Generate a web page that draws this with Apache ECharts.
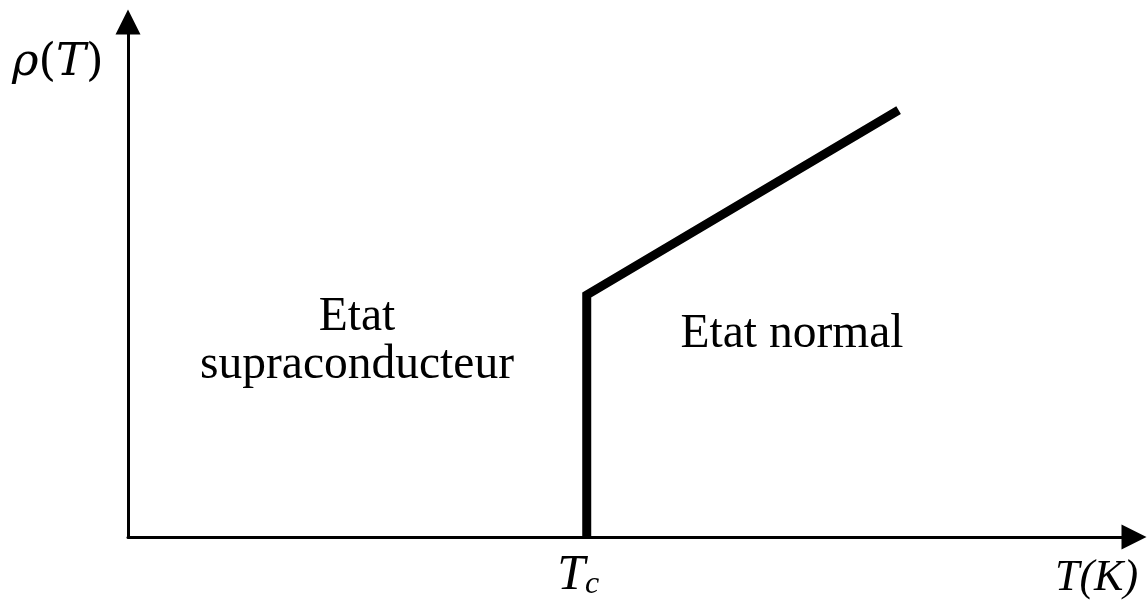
<!DOCTYPE html>
<html>
<head>
<meta charset="utf-8">
<script src="https://cdn.jsdelivr.net/npm/echarts@6/dist/echarts.min.js"></script>
<style>html,body{margin:0;padding:0;background:#fff;}#c{width:1148px;height:606px;}</style>
</head>
<body>
<div id="c"></div>
<script>
// Data (arbitrary units)
const xRange = [0, 100];
const yRange = [0, 100];
const TC = 45.6;            // critical temperature position
const curveX = [TC, TC, 76.6];
const curveY = [0, 47.0, 82.9];
const regionLabels = ['Etat', 'supraconducteur', 'Etat normal'];
const axisNames = ['ρ(T)', 'T(K)'];

const serif = '"Liberation Serif", "DejaVu Serif", serif';
const mathSerif = '"DejaVu Serif", serif';
const chart = echarts.init(document.getElementById('c'), null, {renderer: 'canvas'});
const curve = curveX.map((x, i) => [x, curveY[i]]);

chart.setOption({
  backgroundColor: '#fff',
  animation: false,
  grid: {left: 128, right: 14, top: 22, bottom: 69, containLabel: false},
  xAxis: {
    type: 'value', min: xRange[0], max: xRange[1],
    axisLine: {show: true, onZero: false, symbol: ['none', 'triangle'], symbolSize: [25, 25], symbolOffset: [0, 0],
      lineStyle: {color: '#000', width: 3}},
    axisTick: {show: false},
    splitLine: {show: false},
    axisLabel: {
      show: true, customValues: [TC], margin: 14,
      formatter: () => '{t|T}{s|c}',
      rich: {
        t: {fontFamily: serif, fontStyle: 'italic', fontSize: 50, color: '#000'},
        s: {fontFamily: serif, fontStyle: 'italic', fontSize: 32, color: '#000', verticalAlign: 'bottom', padding: [0, 17, 0, 0]}
      }
    }
  },
  yAxis: {
    type: 'value', min: yRange[0], max: yRange[1],
    axisLine: {show: true, onZero: false, symbol: ['none', 'triangle'], symbolSize: [25, 25], symbolOffset: [0, 0],
      lineStyle: {color: '#000', width: 3}},
    axisTick: {show: false},
    splitLine: {show: false},
    axisLabel: {show: false}
  },
  series: [{
    type: 'line', data: curve, symbol: 'none', silent: true,
    lineStyle: {color: '#000', width: 9, cap: 'butt', join: 'miter'}
  }],
  graphic: [
    {type: 'text', left: 12, top: 41, style: {
      text: '{i|ρ}{u|(}{i|T}{u|)}',
      rich: {
        i: {fontFamily: mathSerif, fontStyle: 'italic', fontSize: 45, fill: '#000', color: '#000'},
        u: {fontFamily: mathSerif, fontSize: 45, fill: '#000', color: '#000'}
      }}},
    {type: 'text', left: 1055, top: 556, style: {text: axisNames[1], font: 'italic 44px ' + serif, fill: '#000'}},
    {type: 'text', x: 357, y: 318, style: {text: regionLabels[0], font: '47.5px ' + serif, fill: '#000', textAlign: 'center', textVerticalAlign: 'middle'}},
    {type: 'text', x: 357, y: 366, style: {text: regionLabels[1], font: '47.5px ' + serif, fill: '#000', textAlign: 'center', textVerticalAlign: 'middle'}},
    {type: 'text', x: 792, y: 335, style: {text: regionLabels[2], font: '47.5px ' + serif, fill: '#000', textAlign: 'center', textVerticalAlign: 'middle'}}
  ]
});
</script>
</body>
</html>
